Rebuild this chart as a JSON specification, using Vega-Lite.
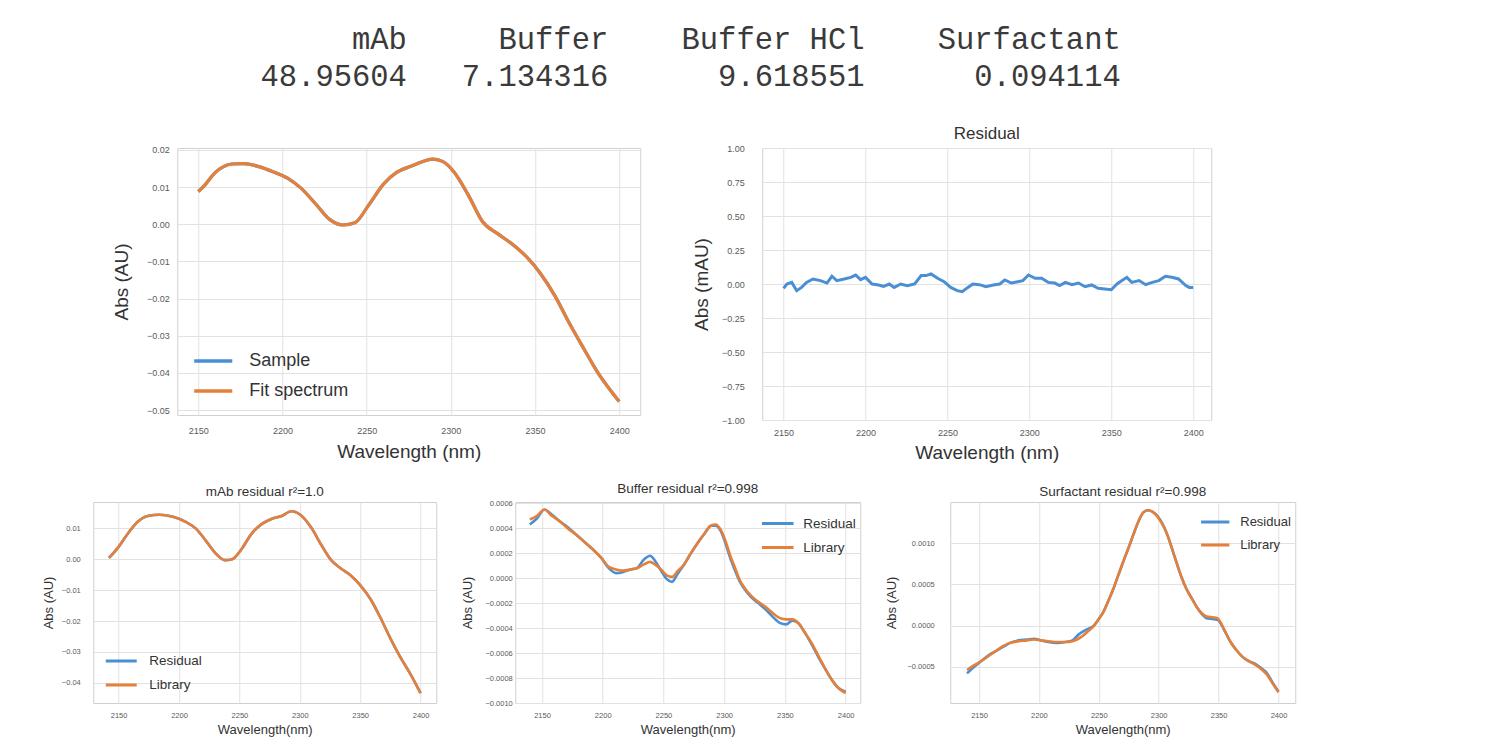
{
  "$schema": "https://vega.github.io/schema/vega-lite/v6.json",
  "background": "white",
  "padding": {"left": 41, "top": 25, "right": 5, "bottom": 5},
  "title": {
    "text": ["mAb\u00a0\u00a0\u00a0\u00a0\u00a0Buffer\u00a0\u00a0\u00a0\u00a0Buffer\u00a0HCl\u00a0\u00a0\u00a0\u00a0Surfactant", "48.95604\u00a0\u00a0\u00a07.134316\u00a0\u00a0\u00a0\u00a0\u00a0\u00a09.618551\u00a0\u00a0\u00a0\u00a0\u00a0\u00a00.094114"],
    "font": "Liberation Mono",
    "fontSize": 30.5,
    "fontWeight": "normal",
    "color": "#3a3a3a",
    "lineHeight": 37,
    "anchor": "end",
    "align": "right",
    "dx": -175,
    "offset": 32
  },
  "config": {
    "font": "Liberation Sans",
    "view": {"stroke": "#d0d0d0", "strokeWidth": 1},
    "axis": {"domain": false, "ticks": false, "tickSize": 0, "grid": true, "gridColor": "#e2e2e2", "gridWidth": 1, "labelColor": "#5a5a5a", "titleColor": "#333333", "titleFontWeight": "normal", "labelFont": "Liberation Sans", "titleFont": "Liberation Sans", "labelOverlap": false},
    "legend": {"labelColor": "#333333", "labelFont": "Liberation Sans", "padding": 0, "symbolType": "stroke", "title": null},
    "title": {"font": "Liberation Sans", "fontWeight": "normal", "color": "#333333"}
  },
  "resolve": {"scale": {"color": "independent"}, "legend": {"color": "independent"}},
  "datasets": {
    "fit": [
      {"wl": 2150, "Sample": 0.0088, "Fit spectrum": 0.0088},
      {"wl": 2154, "Sample": 0.0106, "Fit spectrum": 0.0106},
      {"wl": 2160, "Sample": 0.0139, "Fit spectrum": 0.0139},
      {"wl": 2165, "Sample": 0.0155, "Fit spectrum": 0.0155},
      {"wl": 2170, "Sample": 0.0162, "Fit spectrum": 0.0162},
      {"wl": 2177, "Sample": 0.0163, "Fit spectrum": 0.0163},
      {"wl": 2186, "Sample": 0.0155, "Fit spectrum": 0.0155},
      {"wl": 2194, "Sample": 0.0142, "Fit spectrum": 0.0142},
      {"wl": 2203, "Sample": 0.0124, "Fit spectrum": 0.0124},
      {"wl": 2211, "Sample": 0.0097, "Fit spectrum": 0.0097},
      {"wl": 2220, "Sample": 0.0053, "Fit spectrum": 0.0053},
      {"wl": 2228, "Sample": 0.0013, "Fit spectrum": 0.0013},
      {"wl": 2236, "Sample": -0.0002, "Fit spectrum": -0.0002},
      {"wl": 2243, "Sample": 0.0004, "Fit spectrum": 0.0004},
      {"wl": 2251, "Sample": 0.0050, "Fit spectrum": 0.0050},
      {"wl": 2260, "Sample": 0.0108, "Fit spectrum": 0.0108},
      {"wl": 2268, "Sample": 0.0140, "Fit spectrum": 0.0140},
      {"wl": 2277, "Sample": 0.0157, "Fit spectrum": 0.0157},
      {"wl": 2283, "Sample": 0.0168, "Fit spectrum": 0.0168},
      {"wl": 2289, "Sample": 0.0175, "Fit spectrum": 0.0175},
      {"wl": 2295, "Sample": 0.0169, "Fit spectrum": 0.0169},
      {"wl": 2302, "Sample": 0.0140, "Fit spectrum": 0.0140},
      {"wl": 2311, "Sample": 0.0073, "Fit spectrum": 0.0073},
      {"wl": 2319, "Sample": 0.0006, "Fit spectrum": 0.0006},
      {"wl": 2328, "Sample": -0.0026, "Fit spectrum": -0.0026},
      {"wl": 2336, "Sample": -0.0052, "Fit spectrum": -0.0052},
      {"wl": 2345, "Sample": -0.0088, "Fit spectrum": -0.0088},
      {"wl": 2353, "Sample": -0.0131, "Fit spectrum": -0.0131},
      {"wl": 2362, "Sample": -0.0194, "Fit spectrum": -0.0194},
      {"wl": 2370, "Sample": -0.0263, "Fit spectrum": -0.0263},
      {"wl": 2379, "Sample": -0.0335, "Fit spectrum": -0.0335},
      {"wl": 2387, "Sample": -0.0397, "Fit spectrum": -0.0397},
      {"wl": 2395, "Sample": -0.0448, "Fit spectrum": -0.0448},
      {"wl": 2400, "Sample": -0.0477, "Fit spectrum": -0.0477}
    ],
    "residual": [
      {"wl": 2150, "r": -0.032}, {"wl": 2152, "r": 0}, {"wl": 2155, "r": 0.012}, {"wl": 2158, "r": -0.049},
      {"wl": 2161, "r": -0.025}, {"wl": 2164, "r": 0.012}, {"wl": 2168, "r": 0.037}, {"wl": 2172.5, "r": 0.025},
      {"wl": 2176.5, "r": 0.007}, {"wl": 2179.5, "r": 0.057}, {"wl": 2182.5, "r": 0.025}, {"wl": 2187, "r": 0.037},
      {"wl": 2191, "r": 0.049}, {"wl": 2194, "r": 0.066}, {"wl": 2197, "r": 0.032}, {"wl": 2200, "r": 0.049},
      {"wl": 2204, "r": 0}, {"wl": 2208, "r": -0.007}, {"wl": 2211, "r": -0.017}, {"wl": 2214.5, "r": 0},
      {"wl": 2217.5, "r": -0.025}, {"wl": 2221.5, "r": 0}, {"wl": 2225.5, "r": -0.012}, {"wl": 2230, "r": 0},
      {"wl": 2234, "r": 0.062}, {"wl": 2237, "r": 0.062}, {"wl": 2240, "r": 0.074}, {"wl": 2244, "r": 0.042},
      {"wl": 2248, "r": 0.017}, {"wl": 2252, "r": -0.025}, {"wl": 2256, "r": -0.049}, {"wl": 2259, "r": -0.057},
      {"wl": 2262.5, "r": -0.025}, {"wl": 2265.5, "r": 0}, {"wl": 2269.5, "r": -0.005}, {"wl": 2273.5, "r": -0.02},
      {"wl": 2278, "r": -0.007}, {"wl": 2282, "r": 0}, {"wl": 2285, "r": 0.03}, {"wl": 2289, "r": 0.007},
      {"wl": 2293, "r": 0.017}, {"wl": 2296, "r": 0.025}, {"wl": 2299.5, "r": 0.066}, {"wl": 2303.5, "r": 0.042},
      {"wl": 2307.5, "r": 0.042}, {"wl": 2311.5, "r": 0.012}, {"wl": 2315.5, "r": 0.007}, {"wl": 2318.5, "r": -0.012},
      {"wl": 2322, "r": 0.012}, {"wl": 2326, "r": -0.005}, {"wl": 2330, "r": 0.007}, {"wl": 2334, "r": -0.02},
      {"wl": 2338, "r": -0.007}, {"wl": 2342, "r": -0.032}, {"wl": 2346, "r": -0.037}, {"wl": 2350, "r": -0.042},
      {"wl": 2353.5, "r": 0}, {"wl": 2356.5, "r": 0.025}, {"wl": 2359.5, "r": 0.049}, {"wl": 2362.5, "r": 0.012},
      {"wl": 2367, "r": 0.025}, {"wl": 2371, "r": -0.005}, {"wl": 2375, "r": 0.012}, {"wl": 2379, "r": 0.025},
      {"wl": 2383, "r": 0.057}, {"wl": 2387, "r": 0.049}, {"wl": 2391, "r": 0.037}, {"wl": 2395.5, "r": -0.012},
      {"wl": 2397.5, "r": -0.025}, {"wl": 2400, "r": -0.025}
    ],
    "mab": [
      {"wl": 2142, "Residual": 0.0004, "Library": 0.0004},
      {"wl": 2150, "Residual": 0.0040, "Library": 0.0040},
      {"wl": 2158, "Residual": 0.0085, "Library": 0.0085},
      {"wl": 2166, "Residual": 0.0122, "Library": 0.0122},
      {"wl": 2174, "Residual": 0.0140, "Library": 0.0140},
      {"wl": 2184, "Residual": 0.0144, "Library": 0.0144},
      {"wl": 2195, "Residual": 0.0137, "Library": 0.0137},
      {"wl": 2206, "Residual": 0.0120, "Library": 0.0120},
      {"wl": 2214, "Residual": 0.0099, "Library": 0.0099},
      {"wl": 2222, "Residual": 0.0061, "Library": 0.0061},
      {"wl": 2230, "Residual": 0.0020, "Library": 0.0020},
      {"wl": 2238, "Residual": -0.0003, "Library": -0.0003},
      {"wl": 2244, "Residual": 0.0000, "Library": 0.0000},
      {"wl": 2252, "Residual": 0.0034, "Library": 0.0034},
      {"wl": 2260, "Residual": 0.0082, "Library": 0.0082},
      {"wl": 2269, "Residual": 0.0115, "Library": 0.0115},
      {"wl": 2277, "Residual": 0.0131, "Library": 0.0131},
      {"wl": 2285, "Residual": 0.0140, "Library": 0.0140},
      {"wl": 2293, "Residual": 0.0155, "Library": 0.0155},
      {"wl": 2301, "Residual": 0.0142, "Library": 0.0142},
      {"wl": 2310, "Residual": 0.0099, "Library": 0.0099},
      {"wl": 2318, "Residual": 0.0045, "Library": 0.0045},
      {"wl": 2326, "Residual": -0.0003, "Library": -0.0003},
      {"wl": 2334, "Residual": -0.0030, "Library": -0.0030},
      {"wl": 2342, "Residual": -0.0052, "Library": -0.0052},
      {"wl": 2350, "Residual": -0.0084, "Library": -0.0084},
      {"wl": 2359, "Residual": -0.0132, "Library": -0.0132},
      {"wl": 2367, "Residual": -0.0191, "Library": -0.0191},
      {"wl": 2375, "Residual": -0.0256, "Library": -0.0256},
      {"wl": 2383, "Residual": -0.0315, "Library": -0.0315},
      {"wl": 2392, "Residual": -0.0374, "Library": -0.0374},
      {"wl": 2400, "Residual": -0.0433, "Library": -0.0433}
    ],
    "buffer": [
      {"wl": 2140, "Residual": 0.00043, "Library": 0.00047},
      {"wl": 2146, "Residual": 0.00048, "Library": 0.00050},
      {"wl": 2152, "Residual": 0.00055, "Library": 0.00055},
      {"wl": 2158, "Residual": 0.00051, "Library": 0.00050},
      {"wl": 2164, "Residual": 0.00046, "Library": 0.00046},
      {"wl": 2171, "Residual": 0.00041, "Library": 0.00040},
      {"wl": 2178, "Residual": 0.00035, "Library": 0.00035},
      {"wl": 2185, "Residual": 0.00029, "Library": 0.00029},
      {"wl": 2192, "Residual": 0.00023, "Library": 0.00023},
      {"wl": 2199, "Residual": 0.00016, "Library": 0.00016},
      {"wl": 2205, "Residual": 0.00008, "Library": 0.00009},
      {"wl": 2211, "Residual": 0.00004, "Library": 0.00007},
      {"wl": 2217, "Residual": 0.00005, "Library": 0.00006},
      {"wl": 2223, "Residual": 0.00007, "Library": 0.00007},
      {"wl": 2228, "Residual": 0.00008, "Library": 0.00008},
      {"wl": 2234, "Residual": 0.00015, "Library": 0.00011},
      {"wl": 2239, "Residual": 0.00018, "Library": 0.00013},
      {"wl": 2243, "Residual": 0.00014, "Library": 0.00011},
      {"wl": 2248, "Residual": 0.00006, "Library": 0.00007},
      {"wl": 2253, "Residual": -0.00001, "Library": 0.00002},
      {"wl": 2257, "Residual": -0.00003, "Library": 0.00001},
      {"wl": 2262, "Residual": 0.00004, "Library": 0.00006},
      {"wl": 2267, "Residual": 0.00011, "Library": 0.00011},
      {"wl": 2272, "Residual": 0.00019, "Library": 0.00019},
      {"wl": 2278, "Residual": 0.00028, "Library": 0.00028},
      {"wl": 2284, "Residual": 0.00036, "Library": 0.00036},
      {"wl": 2289, "Residual": 0.00042, "Library": 0.00042},
      {"wl": 2293, "Residual": 0.00042, "Library": 0.00043},
      {"wl": 2297, "Residual": 0.00038, "Library": 0.00039},
      {"wl": 2301, "Residual": 0.00028, "Library": 0.00030},
      {"wl": 2305, "Residual": 0.00016, "Library": 0.00018},
      {"wl": 2309, "Residual": 0.00006, "Library": 0.00008},
      {"wl": 2313, "Residual": -0.00003, "Library": -0.00002},
      {"wl": 2317, "Residual": -0.00009, "Library": -0.00008},
      {"wl": 2322, "Residual": -0.00015, "Library": -0.00014},
      {"wl": 2328, "Residual": -0.00020, "Library": -0.00019},
      {"wl": 2334, "Residual": -0.00025, "Library": -0.00023},
      {"wl": 2340, "Residual": -0.00031, "Library": -0.00028},
      {"wl": 2346, "Residual": -0.00036, "Library": -0.00032},
      {"wl": 2351, "Residual": -0.00037, "Library": -0.00033},
      {"wl": 2356, "Residual": -0.00034, "Library": -0.00033},
      {"wl": 2361, "Residual": -0.00036, "Library": -0.00036},
      {"wl": 2366, "Residual": -0.00043, "Library": -0.00043},
      {"wl": 2372, "Residual": -0.00053, "Library": -0.00052},
      {"wl": 2378, "Residual": -0.00064, "Library": -0.00063},
      {"wl": 2384, "Residual": -0.00074, "Library": -0.00074},
      {"wl": 2389, "Residual": -0.00082, "Library": -0.00082},
      {"wl": 2394, "Residual": -0.00088, "Library": -0.00088},
      {"wl": 2400, "Residual": -0.00091, "Library": -0.00092}
    ],
    "surf": [
      {"wl": 2140, "Residual": -0.00058, "Library": -0.00054},
      {"wl": 2146, "Residual": -0.00050, "Library": -0.00048},
      {"wl": 2152, "Residual": -0.00043, "Library": -0.00043},
      {"wl": 2158, "Residual": -0.00036, "Library": -0.00037},
      {"wl": 2164, "Residual": -0.00031, "Library": -0.00031},
      {"wl": 2170, "Residual": -0.00026, "Library": -0.00025},
      {"wl": 2176, "Residual": -0.00021, "Library": -0.00021},
      {"wl": 2183, "Residual": -0.00018, "Library": -0.00019},
      {"wl": 2190, "Residual": -0.00017, "Library": -0.00018},
      {"wl": 2196, "Residual": -0.00016, "Library": -0.00017},
      {"wl": 2202, "Residual": -0.00018, "Library": -0.00018},
      {"wl": 2208, "Residual": -0.00020, "Library": -0.00019},
      {"wl": 2215, "Residual": -0.00021, "Library": -0.00020},
      {"wl": 2222, "Residual": -0.00020, "Library": -0.00020},
      {"wl": 2228, "Residual": -0.00018, "Library": -0.00019},
      {"wl": 2233, "Residual": -0.00011, "Library": -0.00016},
      {"wl": 2237, "Residual": -0.00007, "Library": -0.00012},
      {"wl": 2241, "Residual": -0.00004, "Library": -0.00007},
      {"wl": 2245, "Residual": -0.00001, "Library": -0.00002},
      {"wl": 2250, "Residual": 0.00008, "Library": 0.00008},
      {"wl": 2254, "Residual": 0.00017, "Library": 0.00017},
      {"wl": 2258, "Residual": 0.00030, "Library": 0.00030},
      {"wl": 2262, "Residual": 0.00044, "Library": 0.00044},
      {"wl": 2266, "Residual": 0.00060, "Library": 0.00060},
      {"wl": 2270, "Residual": 0.00076, "Library": 0.00076},
      {"wl": 2275, "Residual": 0.00095, "Library": 0.00095},
      {"wl": 2279, "Residual": 0.00111, "Library": 0.00111},
      {"wl": 2283, "Residual": 0.00126, "Library": 0.00126},
      {"wl": 2287, "Residual": 0.00137, "Library": 0.00137},
      {"wl": 2291, "Residual": 0.00140, "Library": 0.00140},
      {"wl": 2295, "Residual": 0.00138, "Library": 0.00138},
      {"wl": 2299, "Residual": 0.00133, "Library": 0.00132},
      {"wl": 2303, "Residual": 0.00124, "Library": 0.00123},
      {"wl": 2307, "Residual": 0.00111, "Library": 0.00111},
      {"wl": 2311, "Residual": 0.00094, "Library": 0.00094},
      {"wl": 2315, "Residual": 0.00076, "Library": 0.00076},
      {"wl": 2319, "Residual": 0.00059, "Library": 0.00059},
      {"wl": 2323, "Residual": 0.00045, "Library": 0.00045},
      {"wl": 2328, "Residual": 0.00032, "Library": 0.00032},
      {"wl": 2332, "Residual": 0.00022, "Library": 0.00022},
      {"wl": 2336, "Residual": 0.00014, "Library": 0.00015},
      {"wl": 2340, "Residual": 0.00009, "Library": 0.00011},
      {"wl": 2345, "Residual": 0.00008, "Library": 0.00010},
      {"wl": 2349, "Residual": 0.00007, "Library": 0.00009},
      {"wl": 2352, "Residual": 0.00002, "Library": 0.00003},
      {"wl": 2356, "Residual": -0.00009, "Library": -0.00009},
      {"wl": 2360, "Residual": -0.00020, "Library": -0.00020},
      {"wl": 2365, "Residual": -0.00030, "Library": -0.00030},
      {"wl": 2370, "Residual": -0.00038, "Library": -0.00038},
      {"wl": 2375, "Residual": -0.00043, "Library": -0.00043},
      {"wl": 2380, "Residual": -0.00046, "Library": -0.00047},
      {"wl": 2385, "Residual": -0.00051, "Library": -0.00052},
      {"wl": 2390, "Residual": -0.00057, "Library": -0.00059},
      {"wl": 2395, "Residual": -0.00069, "Library": -0.00070},
      {"wl": 2400, "Residual": -0.00080, "Library": -0.00081}
    ]
  },
  "vconcat": [
    {
      "bounds": "flush",
      "spacing": 122,
      "resolve": {"scale": {"color": "independent"}, "legend": {"color": "independent"}},
      "hconcat": [
        {
          "width": 463,
          "height": 267,
          "data": {"name": "fit"},
          "transform": [{"fold": ["Sample", "Fit spectrum"], "as": ["series", "abs"]}],
          "mark": {"type": "line", "strokeWidth": 3.2, "interpolate": "monotone"},
          "encoding": {
            "x": {"field": "wl", "type": "quantitative", "scale": {"domain": [2137.5, 2412.5], "nice": false, "zero": false},
              "axis": {"values": [2150, 2200, 2250, 2300, 2350, 2400], "format": "d", "title": "Wavelength (nm)", "titleFontSize": 19, "labelFontSize": 9, "labelPadding": 11, "titlePadding": 7}},
            "y": {"field": "abs", "type": "quantitative", "scale": {"domain": [-0.0513, 0.0205], "nice": false, "zero": false},
              "axis": {"values": [-0.05, -0.04, -0.03, -0.02, -0.01, 0, 0.01, 0.02], "format": ".2f", "title": "Abs (AU)", "titleFontSize": 19, "labelFontSize": 9, "labelPadding": 8, "titlePadding": 15}},
            "color": {"field": "series", "type": "nominal", "scale": {"domain": ["Sample", "Fit spectrum"], "range": ["#4a8fd4", "#e5803a"]},
              "legend": {"orient": "bottom-left", "offset": 15, "labelFontSize": 18, "symbolStrokeWidth": 3.5, "symbolSize": 1450, "labelOffset": 15, "rowPadding": 0}}
          }
        },
        {
          "width": 449,
          "height": 272,
          "title": {"text": "Residual", "fontSize": 17, "offset": 1},
          "data": {"name": "residual"},
          "mark": {"type": "line", "strokeWidth": 3, "color": "#4a8fd4"},
          "encoding": {
            "x": {"field": "wl", "type": "quantitative", "scale": {"domain": [2137, 2411], "nice": false, "zero": false},
              "axis": {"values": [2150, 2200, 2250, 2300, 2350, 2400], "format": "d", "title": "Wavelength (nm)", "titleFontSize": 19, "labelFontSize": 9, "labelPadding": 8, "titlePadding": 6}},
            "y": {"field": "r", "type": "quantitative", "scale": {"domain": [-1, 1], "nice": false, "zero": false},
              "axis": {"values": [-1, -0.75, -0.5, -0.25, 0, 0.25, 0.5, 0.75, 1], "format": ".2f", "title": "Abs (mAU)", "titleFontSize": 19, "labelFontSize": 9, "labelPadding": 18, "titlePadding": 10}}
          }
        }
      ]
    },
    {
      "spacing": 24,
      "resolve": {"scale": {"color": "independent"}, "legend": {"color": "independent"}},
      "hconcat": [
        {
          "width": 343,
          "height": 201,
          "title": {"text": "mAb residual r²=1.0", "fontSize": 13.5, "offset": 4},
          "data": {"name": "mab"},
          "transform": [{"fold": ["Residual", "Library"], "as": ["series", "abs"]}],
          "mark": {"type": "line", "strokeWidth": 2.6, "interpolate": "monotone"},
          "encoding": {
            "x": {"field": "wl", "type": "quantitative", "scale": {"domain": [2129, 2413], "nice": false, "zero": false},
              "axis": {"values": [2150, 2200, 2250, 2300, 2350, 2400], "format": "d", "title": "Wavelength(nm)", "titleFontSize": 13, "labelFontSize": 7.5, "labelPadding": 8, "titlePadding": 5}},
            "y": {"field": "abs", "type": "quantitative", "scale": {"domain": [-0.0465, 0.0185], "nice": false, "zero": false},
              "axis": {"values": [-0.04, -0.03, -0.02, -0.01, 0, 0.01], "format": ".2f", "title": "Abs (AU)", "titleFontSize": 13, "labelFontSize": 7.5, "labelPadding": 13, "titlePadding": 6}},
            "color": {"field": "series", "type": "nominal", "scale": {"domain": ["Residual", "Library"], "range": ["#4a8fd4", "#e5803a"]},
              "legend": {"orient": "bottom-left", "offset": 11, "labelFontSize": 13.5, "symbolStrokeWidth": 3, "symbolSize": 960, "labelOffset": 11, "rowPadding": -4}}
          }
        },
        {
          "width": 345,
          "height": 201,
          "title": {"text": "Buffer residual r²=0.998", "fontSize": 13.5, "offset": 4},
          "data": {"name": "buffer"},
          "transform": [{"fold": ["Residual", "Library"], "as": ["series", "abs"]}],
          "mark": {"type": "line", "strokeWidth": 2.6, "interpolate": "monotone"},
          "encoding": {
            "x": {"field": "wl", "type": "quantitative", "scale": {"domain": [2128, 2412], "nice": false, "zero": false},
              "axis": {"values": [2150, 2200, 2250, 2300, 2350, 2400], "format": "d", "title": "Wavelength(nm)", "titleFontSize": 13, "labelFontSize": 7.5, "labelPadding": 8, "titlePadding": 5}},
            "y": {"field": "abs", "type": "quantitative", "scale": {"domain": [-0.00100, 0.00061], "nice": false, "zero": false},
              "axis": {"values": [-0.001, -0.0008, -0.0006, -0.0004, -0.0002, 0, 0.0002, 0.0004, 0.0006], "format": ".4f", "title": "Abs (AU)", "titleFontSize": 13, "labelFontSize": 7.5, "labelPadding": 3, "titlePadding": 10}},
            "color": {"field": "series", "type": "nominal", "scale": {"domain": ["Residual", "Library"], "range": ["#4a8fd4", "#e5803a"]},
              "legend": {"orient": "top-right", "offset": 4, "labelFontSize": 13.5, "symbolStrokeWidth": 3, "symbolSize": 1000, "labelOffset": 8, "rowPadding": -4}}
          }
        },
        {
          "width": 345,
          "height": 201,
          "title": {"text": "Surfactant residual r²=0.998", "fontSize": 13.5, "offset": 4},
          "data": {"name": "surf"},
          "transform": [{"fold": ["Residual", "Library"], "as": ["series", "abs"]}],
          "mark": {"type": "line", "strokeWidth": 2.6, "interpolate": "monotone"},
          "encoding": {
            "x": {"field": "wl", "type": "quantitative", "scale": {"domain": [2126, 2414], "nice": false, "zero": false},
              "axis": {"values": [2150, 2200, 2250, 2300, 2350, 2400], "format": "d", "title": "Wavelength(nm)", "titleFontSize": 13, "labelFontSize": 7.5, "labelPadding": 8, "titlePadding": 5}},
            "y": {"field": "abs", "type": "quantitative", "scale": {"domain": [-0.00094, 0.0015], "nice": false, "zero": false},
              "axis": {"values": [-0.0005, 0, 0.0005, 0.001], "format": ".4f", "title": "Abs (AU)", "titleFontSize": 13, "labelFontSize": 7.5, "labelPadding": 16, "titlePadding": 8}},
            "color": {"field": "series", "type": "nominal", "scale": {"domain": ["Residual", "Library"], "range": ["#4a8fd4", "#e5803a"]},
              "legend": {"orient": "top-right", "offset": 4, "labelFontSize": 13, "symbolStrokeWidth": 3, "symbolSize": 800, "labelOffset": 9, "rowPadding": -7}}
          }
        }
      ]
    }
  ],
  "spacing": 18,
  "center": true
}
